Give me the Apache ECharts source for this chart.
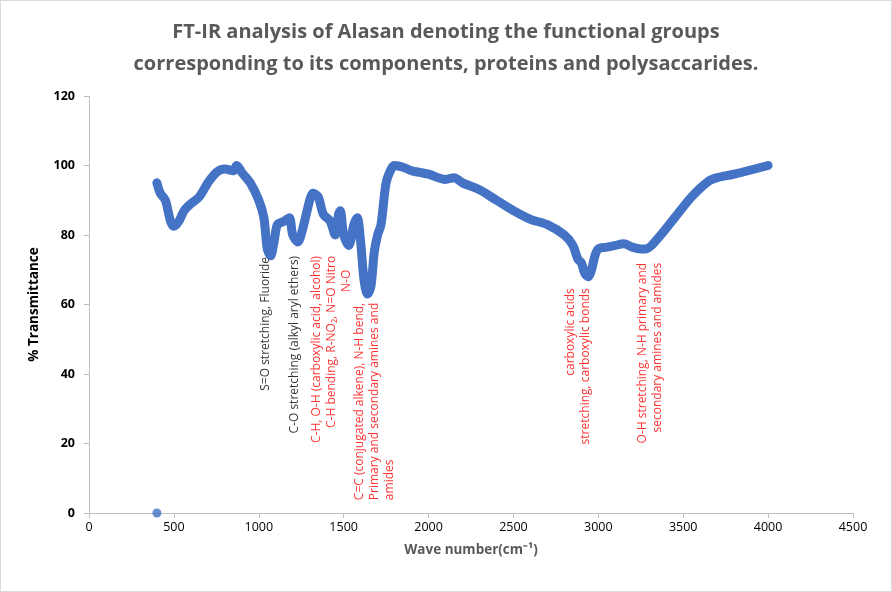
<!DOCTYPE html>
<html>
<head>
    <meta charset="utf-8">
    <title>FT-IR</title>
    <script src="https://cdn.jsdelivr.net/npm/echarts@6/dist/echarts.min.js"></script>
    <style>
        html, body {margin: 0; padding: 0; background: #fff;}
        #chart {width: 890px; height: 590px; border: 1px solid #d9d9d9;}
    </style>
</head>
<body>
<div id="chart"></div>
<script>
    // wave number vs % transmittance
    var waveNumbers = [400, 420, 450, 480, 500, 530, 560, 600, 650, 700, 750, 800, 850, 870, 900, 950, 1000, 1030, 1050, 1070,
        1090, 1110, 1150, 1180, 1200, 1230, 1260, 1300, 1320, 1350, 1380, 1420, 1450, 1470, 1480, 1500, 1530, 1560, 1580, 1600,
        1620, 1640, 1660, 1680, 1700, 1720, 1750, 1780, 1800, 1850, 1900, 1950, 2000, 2100, 2150, 2200, 2300, 2400, 2500, 2600,
        2700, 2800, 2850, 2880, 2900, 2920, 2940, 2960, 2980, 3000, 3050, 3100, 3150, 3200, 3250, 3280, 3350, 3450, 3550, 3650,
        3700, 3800, 4000];
    var transmittance = [95, 92, 90, 84, 82.5, 84, 87, 89, 91, 95, 98, 99, 98.5, 100, 98, 95, 90, 85, 76, 74,
        78, 83, 84, 85, 80, 78, 82, 90, 92, 91, 86, 84, 80, 86, 87, 80, 77, 83, 85, 78,
        67, 63, 65, 75, 80, 83, 95, 99, 100, 99.5, 98.5, 98, 97.5, 96, 96.5, 95, 93, 90, 87, 84.5,
        83, 80, 77, 73, 72, 69, 68, 70, 74, 76, 76.5, 77, 77.5, 76.5, 76, 76, 79, 85, 91, 95.5,
        96.5, 97.5, 100];
    var strayPoint = [400, 0];

    var annoX = [1042, 1213, 1384, 1519, 1684, 2880, 3304];
    var annoY = [73.7, 74, 74, 70, 3.7, 64.7, 72];
    var annoText = [
        'S=O stretching, Fluoride',
        'C-O stretching (alkyl aryl ethers)',
        'C-H, O-H (carboxylic acid, alcohol)\nC-H bending, R-NO₂, N=O Nitro',
        'N-O',
        'C=C (conjugated alkene), N-H bend,\nPrimary and secondary amines and\namides',
        'carboxylic acids\nstretching, carboxylic bonds',
        'O-H stretching, N-H primary and\nsecondary amines and amides'
    ];
    var annoRed = [false, false, true, true, true, true, true];

    var lineData = waveNumbers.map(function (w, i) { return [w, transmittance[i]]; });
    var annoData = annoX.map(function (x, i) {
        return {
            value: [x, annoY[i]],
            label: {
                color: annoRed[i] ? '#ff0000' : '#000000',
                align: i === 4 ? 'left' : 'right'
            }
        };
    });

    var chart = echarts.init(document.getElementById('chart'));
    chart.setOption({
        animation: false,
        title: {
            text: 'FT-IR analysis of Alasan denoting the functional groups\ncorresponding to its components, proteins and polysaccarides.',
            left: 'center',
            top: 10,
            textStyle: {fontFamily: 'Open Sans', fontSize: 20, fontWeight: 'bold', color: '#595959', lineHeight: 32}
        },
        grid: {left: 88, right: 38, top: 95, bottom: 78},
        xAxis: {
            type: 'value', min: 0, max: 4500, interval: 500,
            name: 'Wave number(cm⁻¹)', nameLocation: 'middle', nameGap: 30,
            nameTextStyle: {fontFamily: 'Open Sans', fontSize: 13.5, fontWeight: 'bold', color: '#595959'},
            axisLine: {lineStyle: {color: '#bfbfbf'}},
            axisTick: {show: true, lineStyle: {color: '#bfbfbf'}},
            axisLabel: {fontFamily: 'Open Sans', fontSize: 12.5, color: '#000', formatter: function (v) { return String(v); }},
            splitLine: {show: false}
        },
        yAxis: {
            type: 'value', min: 0, max: 120, interval: 20,
            name: '% Transmittance', nameLocation: 'middle', nameGap: 48,
            nameTextStyle: {fontFamily: 'Open Sans', fontSize: 13.5, fontWeight: 'bold', color: '#000'},
            axisLine: {show: true, lineStyle: {color: '#bfbfbf'}},
            axisTick: {show: true, lineStyle: {color: '#bfbfbf'}},
            axisLabel: {fontFamily: 'Open Sans', fontSize: 12.5, fontWeight: 'bold', color: '#000', margin: 14},
            splitLine: {show: false}
        },
        series: [
            {
                type: 'line',
                data: lineData,
                showSymbol: false,
                smooth: 0.3,
                lineStyle: {width: 9, color: '#4472c4', cap: 'round', join: 'round'},
                itemStyle: {color: '#4472c4'}
            },
            {
                type: 'scatter',
                data: [strayPoint],
                symbolSize: 9,
                itemStyle: {color: '#4472c4'}
            },
            {
                type: 'scatter',
                data: annoData,
                symbolSize: 0,
                silent: true,
                label: {
                    show: true,
                    position: 'inside',
                    rotate: 90,
                    verticalAlign: 'middle',
                    fontFamily: 'Open Sans',
                    fontSize: 12,
                    lineHeight: 15,
                    formatter: function (p) { return annoText[p.dataIndex]; }
                }
            }
        ]
    });
</script>
</body>
</html>
